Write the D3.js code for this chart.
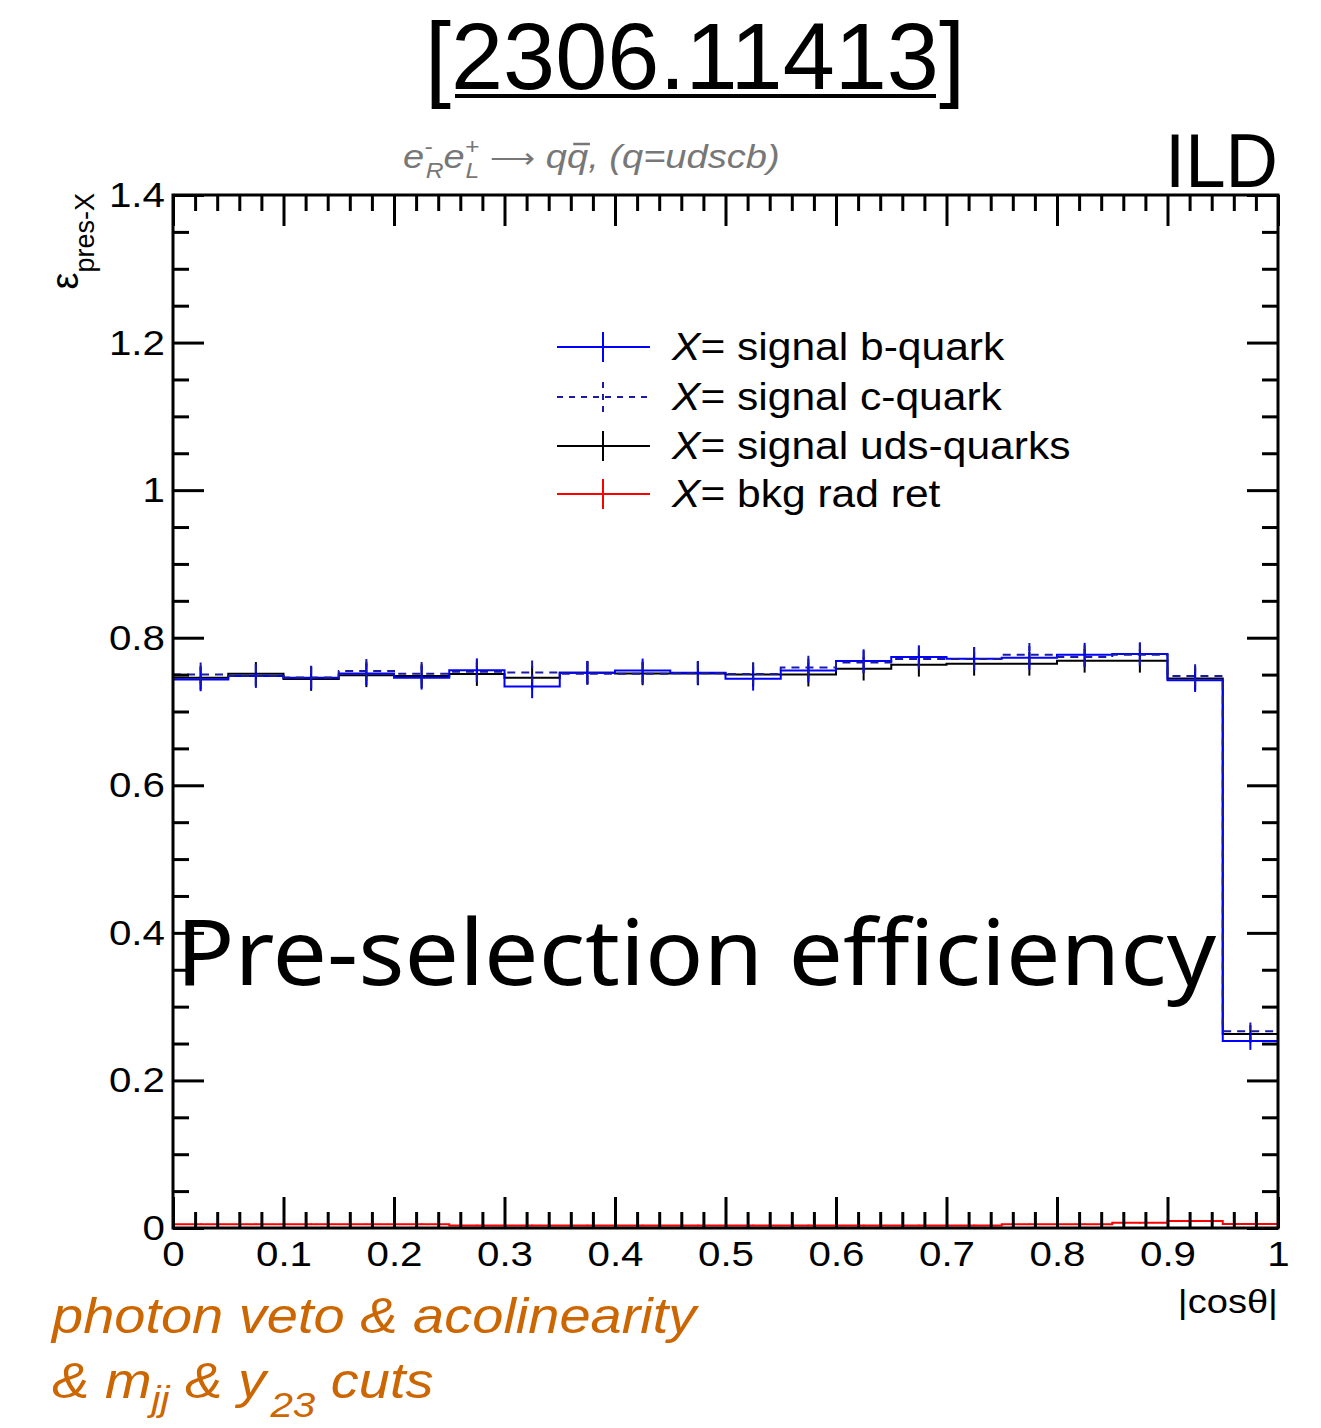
<!DOCTYPE html>
<html><head><meta charset="utf-8">
<script src="https://cdn.jsdelivr.net/npm/d3@7"></script>
<style>body{margin:0;background:#fff}svg{display:block}</style>
</head><body>
<svg id="c" width="1321" height="1428"></svg>
<script>
// ---- data ----
const binLow  = [0,0.05,0.1,0.15,0.2,0.25,0.3,0.35,0.4,0.45,0.5,0.55,0.6,0.65,0.7,0.75,0.8,0.85,0.9,0.95];
const binHigh = [0.05,0.1,0.15,0.2,0.25,0.3,0.35,0.4,0.45,0.5,0.55,0.6,0.65,0.7,0.75,0.8,0.85,0.9,0.95,1.0];
const effB   = [0.7435,0.748,0.7457,0.7516,0.7457,0.756,0.734,0.7525,0.7557,0.7525,0.7443,0.7557,0.7683,0.7737,0.7714,0.7728,0.777,0.7778,0.7425,0.2534];
const effC   = [0.7503,0.748,0.746,0.755,0.751,0.754,0.753,0.751,0.751,0.752,0.7507,0.7597,0.7665,0.771,0.771,0.777,0.7737,0.777,0.748,0.2665];
const effUDS = [0.7457,0.751,0.744,0.749,0.748,0.7507,0.7457,0.7525,0.7516,0.7516,0.750,0.750,0.758,0.7633,0.7646,0.7646,0.7687,0.7687,0.7448,0.2629];
const effBkg = [0.005,0.005,0.005,0.005,0.005,0.0035,0.0035,0.0035,0.0035,0.0035,0.0035,0.0035,0.0035,0.0035,0.0035,0.005,0.005,0.007,0.0095,0.0055];
const errSig = [0.016,0.016,0.016,0.016,0.016,0.016,0.016,0.016,0.016,0.016,0.016,0.016,0.016,0.016,0.016,0.016,0.016,0.016,0.016,0.012];
const errBkg = [0.001,0.001,0.001,0.001,0.001,0.001,0.001,0.001,0.001,0.001,0.001,0.001,0.001,0.001,0.001,0.001,0.001,0.001,0.001,0.001];
const xMajor = [0,0.1,0.2,0.3,0.4,0.5,0.6,0.7,0.8,0.9,1];
const xMajorLabels = ["0","0.1","0.2","0.3","0.4","0.5","0.6","0.7","0.8","0.9","1"];
const yMajor = [0,0.2,0.4,0.6,0.8,1.0,1.2,1.4];
const yMajorLabels = ["0","0.2","0.4","0.6","0.8","1","1.2","1.4"];
const seriesNames = ["signal b-quark","signal c-quark","signal uds-quarks","bkg rad ret"];

// ---- layout ----
const L=173, R=1278, T=195, B=1228;
const WF = 1.12; // horizontal stretch of the ROOT text font
const svg = d3.select("#c");
const x = d3.scaleLinear().domain([0,1]).range([L,R]);
const y = d3.scaleLinear().domain([0,1.4]).range([B,T]);
const ROOTF = "'Liberation Sans', Arial, Helvetica, sans-serif";
const xMinor = d3.range(0,1.0001,0.02).filter(v=>!xMajor.some(m=>Math.abs(m-v)<1e-6));
const yMinor = d3.range(0,1.4001,0.05).filter(v=>!yMajor.some(m=>Math.abs(m-v)<1e-6));
function stretch(sel, ax){ sel.attr("transform",`translate(${ax},0) scale(${WF},1) translate(${-ax},0)`); return sel; }

// histograms
function stepPath(vals){
  let p="";
  vals.forEach((v,i)=>{
    const x0=x(binLow[i]), x1=x(binHigh[i]), yy=y(v);
    p += (i===0?`M${x0},${yy}`:`L${x0},${yy}`) + `L${x1},${yy}`;
  });
  return p;
}
function drawHist(vals, errs, color, dash){
  const g = svg.append("g");
  g.append("path").attr("d",stepPath(vals)).attr("fill","none")
    .attr("stroke",color).attr("stroke-width",2).attr("stroke-dasharray",dash||null);
  g.selectAll("line.e").data(vals).join("line")
    .attr("x1",(d,i)=>x((binLow[i]+binHigh[i])/2)).attr("x2",(d,i)=>x((binLow[i]+binHigh[i])/2))
    .attr("y1",(d,i)=>y(d+errs[i])).attr("y2",(d,i)=>y(d-errs[i]))
    .attr("stroke",color).attr("stroke-width",2).attr("stroke-dasharray",dash||null);
}
const colB="#0000ff", colC="#1a1aa6", colU="#000000", colR="#ff0000";
drawHist(effUDS, errSig, colU);
drawHist(effB, errSig, colB);
drawHist(effC, errSig, colC, "8,6");
drawHist(effBkg, errBkg, colR);

// axes
const axB = svg.append("g").attr("transform",`translate(0,${B})`)
  .call(d3.axisBottom(x).tickValues(xMajor).tickSize(-31).tickPadding(12).tickFormat((d,i)=>xMajorLabels[i]));
const axL = svg.append("g").attr("transform",`translate(${L},0)`)
  .call(d3.axisLeft(y).tickValues(yMajor).tickSize(-31).tickPadding(8).tickFormat((d,i)=>yMajorLabels[i]));
svg.append("g").attr("transform",`translate(0,${T})`).call(d3.axisTop(x).tickValues(xMajor).tickSize(-31).tickFormat(""));
svg.append("g").attr("transform",`translate(${R},0)`).call(d3.axisRight(y).tickValues(yMajor).tickSize(-31).tickFormat(""));
svg.append("g").attr("transform",`translate(0,${B})`).call(d3.axisBottom(x).tickValues(xMinor).tickSize(-16).tickFormat(""));
svg.append("g").attr("transform",`translate(0,${T})`).call(d3.axisTop(x).tickValues(xMinor).tickSize(-16).tickFormat(""));
svg.append("g").attr("transform",`translate(${L},0)`).call(d3.axisLeft(y).tickValues(yMinor).tickSize(-16).tickFormat(""));
svg.append("g").attr("transform",`translate(${R},0)`).call(d3.axisRight(y).tickValues(yMinor).tickSize(-16).tickFormat(""));
svg.selectAll(".domain").remove();
svg.selectAll(".tick line").attr("stroke","#000").attr("stroke-width",3);
svg.selectAll(".tick text").attr("font-family",ROOTF).attr("font-size",36).attr("fill","#000");
axB.selectAll(".tick text").attr("dy","0.71em").attr("transform",`scale(${WF},1)`);
axL.selectAll(".tick text").each(function(){ const t=d3.select(this); stretch(t, +t.attr("x")); });
svg.append("rect").attr("x",L).attr("y",T).attr("width",R-L).attr("height",B-T)
  .attr("fill","none").attr("stroke","#000").attr("stroke-width",3);

// axis titles
stretch(svg.append("text").attr("x",R).attr("y",1313).attr("text-anchor","end")
  .attr("font-family",ROOTF).attr("font-size",34).text("|cosθ|"), R);
const yt = svg.append("text").attr("transform","translate(78,193) rotate(-90)")
  .attr("text-anchor","end").attr("font-family",ROOTF).attr("font-size",38);
yt.append("tspan").text("ε");
yt.append("tspan").attr("font-size",27).attr("dy",16).text("pres-X");

// legend
const legY=[347,397,446,494];
const legCol=[colB,colC,colU,colR];
const legDash=[null,"6,6",null,null];
legY.forEach((ly,i)=>{
  svg.append("line").attr("x1",557).attr("x2",650).attr("y1",ly).attr("y2",ly)
    .attr("stroke",legCol[i]).attr("stroke-width",2).attr("stroke-dasharray",legDash[i]);
  svg.append("line").attr("x1",603).attr("x2",603).attr("y1",ly-15).attr("y2",ly+15)
    .attr("stroke",legCol[i]).attr("stroke-width",2).attr("stroke-dasharray",legDash[i]);
  const t = svg.append("text").attr("x",672).attr("y",ly+13).attr("font-family",ROOTF).attr("font-size",38);
  t.append("tspan").attr("font-style","italic").text("X");
  t.append("tspan").text("= "+seriesNames[i]);
  stretch(t, 672);
});

// subtitle (gray italic)
const st = svg.append("text").attr("x",403).attr("y",168).attr("font-family",ROOTF)
  .attr("font-size",34).attr("font-style","italic").attr("fill","#777");
st.append("tspan").text("e");
st.append("tspan").attr("font-size",22).attr("dy",-14).text("-");
st.append("tspan").attr("font-size",22).attr("dx",-6).attr("dy",24).text("R");
st.append("tspan").attr("dy",-10).text("e");
st.append("tspan").attr("font-size",22).attr("dy",-14).text("+");
st.append("tspan").attr("font-size",22).attr("dx",-12).attr("dy",24).text("L");
st.append("tspan").attr("dy",-10).text(" ");
st.append("tspan").attr("font-style","normal").attr("font-size",28).text("\u27F6");
st.append("tspan").text(" q");
st.append("tspan").text("q");
st.append("tspan").text(", (q=udscb)");
{
  const node = st.node();
  const full = node.textContent;
  const idx = full.indexOf("qq")+1;
  const ext = node.getExtentOfChar(idx);
  svg.append("line").attr("x1",ext.x+6).attr("x2",ext.x+ext.width+2)
    .attr("y1",ext.y+7).attr("y2",ext.y+7).attr("stroke","#777").attr("stroke-width",2.5)
    .call(s=>stretch(s,403));
}
stretch(st, 403);

// ILD
svg.append("text").attr("x",R).attr("y",187).attr("text-anchor","end")
  .attr("font-family",ROOTF).attr("font-size",76).attr("textLength",113)
  .attr("lengthAdjust","spacingAndGlyphs").text("ILD");

// big title
const TF = "'Noto Sans', 'Open Sans', sans-serif";
svg.append("text").attr("x",425).attr("y",89).attr("font-family",ROOTF).attr("font-size",94)
  .attr("textLength",540).attr("lengthAdjust","spacingAndGlyphs").text("[2306.11413]");
svg.append("line").attr("x1",455).attr("x2",936).attr("y1",96).attr("y2",96)
  .attr("stroke","#000").attr("stroke-width",4);

// overlay text
svg.append("text").attr("x",176).attr("y",985).attr("font-family",TF).attr("font-size",92)
  .attr("textLength",1040).attr("lengthAdjust","spacingAndGlyphs").text("Pre-selection efficiency");

// orange cuts text
const OR="#cc6600";
stretch(svg.append("text").attr("x",52).attr("y",1333).attr("font-family",ROOTF).attr("font-size",50)
  .attr("font-style","italic").attr("fill",OR).text("photon veto & acolinearity"), 52);
const ct = svg.append("text").attr("x",52).attr("y",1398).attr("font-family",ROOTF).attr("font-size",50)
  .attr("font-style","italic").attr("fill",OR);
ct.append("tspan").text("& m");
ct.append("tspan").attr("font-size",36).attr("dy",13).text("jj");
ct.append("tspan").attr("dy",-13).text(" & y");
ct.append("tspan").attr("font-size",36).attr("dx",4).attr("dy",19).text("23");
ct.append("tspan").attr("dy",-19).text(" cuts");
stretch(ct, 52);
</script>
</body></html>
